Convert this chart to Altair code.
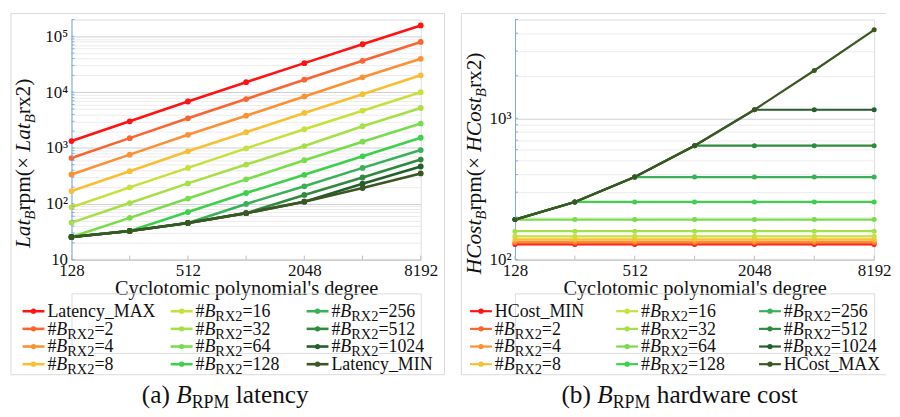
import altair as alt
import pandas as pd

FONT = "Liberation Serif"

# ---------------- data ----------------
degrees = [128, 256, 512, 1024, 2048, 4096, 8192]
labeled_degrees = [128, 512, 2048, 8192]
rx2_counts = [2, 4, 8, 16, 32, 64, 128, 256, 512, 1024]

lat_names = ["Latency_MAX"] + [f"#B_RX2={k}" for k in rx2_counts] + ["Latency_MIN"]
hc_names = ["HCost_MIN"] + [f"#B_RX2={k}" for k in rx2_counts] + ["HCost_MAX"]

lat_max = [1330, 3000, 6800, 15100, 33100, 72100, 156700]
lat_b2 = [660, 1500, 3400, 7520, 16700, 36400, 79300]
lat_b4 = [336, 760, 1720, 3790, 8360, 18450, 39500]
lat_b8 = [169, 384, 871, 1915, 4240, 9200, 20000]
lat_b16 = [87, 197, 440, 984, 2170, 4660, 10000]
lat_b32 = [46, 103, 232, 505, 1081, 2450, 5200]
lat_b64 = [25.5, 56, 124, 274, 603, 1294, 2735]
lat_b128 = [25.5, 32.6, 71, 156, 330, 710, 1524]
lat_b256 = [25.5, 32.6, 45.3, 99.5, 206, 440, 918]
lat_b512 = [25.5, 32.6, 45.3, 68, 144, 296, 620]
lat_b1024 = [25.5, 32.6, 45.3, 68, 109, 229, 466]
lat_min = [25.5, 32.6, 45.3, 68, 109, 191, 350]

hc_min = [128, 128, 128, 128, 128, 128, 128]
hc_b2 = [131, 131, 131, 131, 131, 131, 131]
hc_b4 = [134, 134, 134, 134, 134, 134, 134]
hc_b8 = [139, 139, 139, 139, 139, 139, 139]
hc_b16 = [146, 146, 146, 146, 146, 146, 146]
hc_b32 = [159, 159, 159, 159, 159, 159, 159]
hc_b64 = [192, 192, 192, 192, 192, 192, 192]
hc_b128 = [192, 256, 256, 256, 256, 256, 256]
hc_b256 = [192, 256, 384, 384, 384, 384, 384]
hc_b512 = [192, 256, 384, 640, 640, 640, 640]
hc_b1024 = [192, 256, 384, 640, 1150, 1150, 1150]
hc_max = [192, 256, 384, 640, 1150, 2180, 4230]

lat_values = [lat_max, lat_b2, lat_b4, lat_b8, lat_b16, lat_b32, lat_b64,
              lat_b128, lat_b256, lat_b512, lat_b1024, lat_min]
hc_values = [hc_min, hc_b2, hc_b4, hc_b8, hc_b16, hc_b32, hc_b64,
             hc_b128, hc_b256, hc_b512, hc_b1024, hc_max]

series_colors = ["#ff1212", "#fa6431", "#fb9134", "#f7bf33", "#c8df3c", "#a6df47",
                 "#79dc4a", "#3ecf4b", "#3bb05a", "#2f8a3e", "#245f2b", "#3b5623"]

lat_grid = [m * 10 ** e for e in range(1, 5) for m in range(1, 10)] + [100000, 200000]
hc_grid = [m * 10 ** e for e in range(2, 3) for m in range(1, 10)] + [1000, 2000, 3000, 4000, 5000]

keys = [f"s{i:02d}" for i in range(len(series_colors))]

# ---------------- text metrics (Times / Liberation Serif) ----------------
ROMAN = {' ': 250, '#': 500, '(': 333, ')': 333, '=': 564, '×': 564, '_': 500, "'": 180}
for d in "0123456789":
    ROMAN[d] = 500
ROMAN.update(dict(a=444, b=500, c=444, d=500, e=444, f=333, g=500, h=500, i=278, j=278, k=500,
                  l=278, m=778, n=500, o=500, p=500, q=500, r=333, s=389, t=278, u=500, v=500,
                  w=722, x=500, y=500, z=444))
ROMAN.update(dict(A=722, B=667, C=667, D=722, E=611, F=556, G=722, H=722, I=333, L=611, M=889,
                  N=722, O=722, P=556, R=667, S=556, T=611, X=722))
ITALIC = dict(A=611, B=611, C=667, H=722, L=556, a=500, t=278, o=500, s=389)


def tw(s, size, style):
    tab = ITALIC if style == "italic" else {}
    return sum(tab.get(ch, ROMAN.get(ch, 500)) for ch in s) / 1000.0 * size


def legend_pieces(name):
    if name.startswith("#B_RX2="):
        k = name.split("=")[1]
        return [("#", "normal", 18, 0), ("B", "italic", 18, 0), ("RX2", "normal", 14.5, 4),
                ("=" + k, "normal", 18, 0)]
    return [(name, "normal", 18, 0)]


def run_h(pieces, x0, base):
    out = []
    x = x0
    for txt, style, size, drop in pieces:
        lead = len(txt) - len(txt.lstrip(" "))
        out.append(dict(x=x + tw(" " * lead, size, style), y=base + drop, text=txt.strip(),
                        style=style, size=size, angle=0))
        x += tw(txt, size, style)
    return out


def run_v(pieces, bx, center_y):
    total = sum(tw(t, sz, st) for t, st, sz, dr in pieces)
    y = center_y + total / 2
    out = []
    for txt, style, size, drop in pieces:
        out.append(dict(x=bx + drop, y=y, text=txt, style=style, size=size, angle=270))
        y -= tw(txt, size, style)
    return out


def plot_chart(values, grid, ydomain, major, label_expr, width, height, sw, ps):
    rows = []
    for i, vals in enumerate(values):
        for n, v in zip(degrees, vals):
            rows.append(dict(key=keys[i], idx=i, N=n, v=v))
    df = pd.DataFrame(rows)
    color = alt.Color("key:N", scale=alt.Scale(domain=keys, range=series_colors), legend=None)
    xscale = alt.Scale(type="log", base=2, domain=[128, 8192], nice=False)
    yscale = alt.Scale(type="log", domain=ydomain, nice=False)
    x = alt.X("N:Q", scale=xscale,
              axis=alt.Axis(values=degrees,
                            labelExpr="indexof(%s, datum.value) >= 0 ? '' + datum.value : ''" % labeled_degrees,
                            title="Cyclotomic polynomial's degree", titleFont=FONT, titleFontSize=20.5,
                            titleFontWeight="normal", titleColor="#111", titlePadding=0,
                            labelFont=FONT, labelFontSize=17, labelColor="#111", labelPadding=3,
                            labelFlush=False, labelOverlap=False, ticks=False, tickSize=0,
                            grid=False, domainColor="#c8c8c8"))
    y = alt.Y("v:Q", scale=yscale,
              axis=alt.Axis(values=grid, labelExpr=label_expr, title=None, labelFont=FONT,
                            labelFontSize=17, labelColor="#111", labelPadding=4, labelOverlap=False,
                            labelFlush=False, ticks=False, tickSize=0, grid=True,
                            gridColor={"condition": {"test": "indexof(%s, datum.value) >= 0" % major,
                                                     "value": "#cfcfcf"}, "value": "#ececec"},
                            domainColor="#7aaee0"))
    lines = alt.Chart(df).mark_line(strokeWidth=sw).encode(x=x, y=y, color=color, detail="key:N")
    pts = alt.Chart(df).mark_circle(size=ps, opacity=1).encode(x=x, y=y, color=color,
                                                                order=alt.Order("idx:Q"))
    yt = alt.Chart(pd.DataFrame({"v": grid})).mark_rule(color="#7aaee0", strokeWidth=1).encode(
        y=alt.Y("v:Q", scale=yscale), x=alt.value(0), x2=alt.value(3))
    xt = alt.Chart(pd.DataFrame({"N": degrees})).mark_rule(color="#bdbdbd", strokeWidth=1).encode(
        x=alt.X("N:Q", scale=xscale), y=alt.value(height), y2=alt.value(height - 4))
    return alt.layer(lines, pts, yt, xt).properties(width=width, height=height)


def deco_chart(names, X0, width, col_starts, word, title_bx, caption, cap_center, frame, sw):
    top = 290
    items, texts = [], []
    for i, name in enumerate(names):
        col, row = divmod(i, 4)
        yc = 308 + 17.8 * row
        xs = col_starts[col]
        items.append(dict(key=keys[i], x0=xs - X0, x1=xs + 22 - X0, xd=xs + 11 - X0, y=yc - top))
        texts += run_h(legend_pieces(name), xs + 25, yc + 6)
    ytitle = [(word, "italic", 21.5, 0), ("B", "italic", 15, 5), ("rpm(× ", "normal", 21.5, 0),
              (word, "italic", 21.5, 0), ("B", "italic", 15, 5), ("rx2)", "normal", 21.5, 0)]
    texts += run_v(ytitle, title_bx, 159)
    capw = sum(tw(t, sz, st) for t, st, sz, dr in caption)
    texts += run_h(caption, cap_center - capw / 2, 401)
    tdf = pd.DataFrame(texts)
    tdf["x"] = tdf["x"] - X0
    tdf["y"] = tdf["y"] - top
    idf = pd.DataFrame(items)
    fdf = pd.DataFrame(frame)
    fdf["x"] -= X0
    fdf["x2"] -= X0
    fdf["y"] -= top
    fdf["y2"] -= top

    color = alt.Color("key:N", scale=alt.Scale(domain=keys, range=series_colors), legend=None)
    frame_l = alt.Chart(fdf).mark_rule(color="#dadada", strokeWidth=1).encode(
        x=alt.X("x:Q", scale=None), x2="x2:Q", y=alt.Y("y:Q", scale=None), y2="y2:Q")
    leg_l = alt.Chart(idf).mark_rule(strokeWidth=sw).encode(
        x=alt.X("x0:Q", scale=None), x2="x1:Q", y=alt.Y("y:Q", scale=None), color=color)
    leg_p = alt.Chart(idf).mark_circle(size=28, opacity=1).encode(
        x=alt.X("xd:Q", scale=None), y=alt.Y("y:Q", scale=None), color=color)
    layers = [frame_l, leg_l, leg_p]
    for st in ["normal", "italic"]:
        layers.append(alt.Chart(tdf).transform_filter(alt.datum.style == st).mark_text(
            align="left", baseline="alphabetic", font=FONT, fontStyle=st, color="#111").encode(
            x=alt.X("x:Q", scale=None), y=alt.Y("y:Q", scale=None), text="text:N",
            size=alt.Size("size:Q", scale=None), angle=alt.Angle("angle:Q", scale=None)))
    return alt.layer(*layers).properties(width=width, height=60)


lat_expr = ("datum.value == 10 ? '10' : datum.value == 100 ? '10²' : datum.value == 1000 ? '10³' : "
            "datum.value == 10000 ? '10⁴' : datum.value == 100000 ? '10⁵' : ''")
hc_expr = "datum.value == 100 ? '10²' : datum.value == 1000 ? '10³' : ''"

plotA = plot_chart(lat_values, lat_grid, [10, 200000], [10, 100, 1000, 10000, 100000],
                   lat_expr, 352, 242, 2.6, 34)
plotB = plot_chart(hc_values, hc_grid, [100, 5000], [100, 1000], hc_expr, 362, 242, 2.2, 26)

frameA = [dict(x=10, x2=447, y=8, y2=8), dict(x=10, x2=447, y=372, y2=372),
          dict(x=10, x2=10, y=8, y2=372), dict(x=447, x2=447, y=8, y2=372)]
frameB = [dict(x=464, x2=892, y=8, y2=8), dict(x=464, x2=892, y=372, y2=372),
          dict(x=464, x2=464, y=8, y2=372)]

capA = [("(a) ", "normal", 25.5, 0), ("B", "italic", 25.5, 0), ("RPM", "normal", 18, 5),
        (" latency", "normal", 25.5, 0)]
capB = [("(b) ", "normal", 25.5, 0), ("B", "italic", 25.5, 0), ("RPM", "normal", 18, 5),
        (" hardware cost", "normal", 25.5, 0)]

decoA = deco_chart(lat_names, 71, 352, [21.7, 171, 308], "Lat", 29, capA, 226, frameA, 2.6)
decoB = deco_chart(hc_names, 518, 362, [472.7, 620, 764], "HCost", 484, capB, 684, frameB, 2.2)

chart = alt.concat(plotA, plotB, decoA, decoB, columns=2,
                   spacing={"row": 34, "column": 95}, bounds="flush").properties(
    padding={"left": 2, "top": 0, "right": 0, "bottom": 0}
).configure_view(stroke=None).configure_axis(labelFont=FONT, titleFont=FONT).configure(font=FONT)

chart.save("out.html", embed_options={"renderer": "svg", "actions": False})
